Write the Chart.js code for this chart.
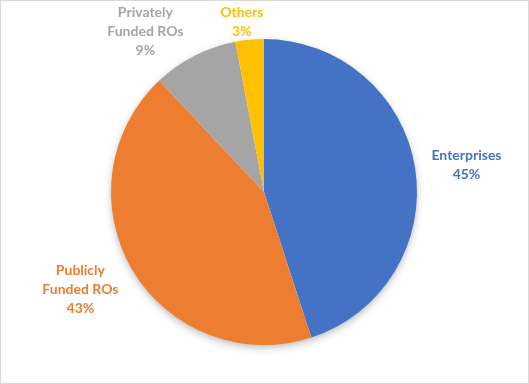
<!DOCTYPE html>
<html>
<head>
<meta charset="utf-8">
<script src="https://cdn.jsdelivr.net/npm/chart.js@4.4.0/dist/chart.umd.min.js"></script>
<style>
    html, body { margin: 0; padding: 0; background: #fff; }
    #box {
        width: 529px;
        height: 384px;
        box-sizing: border-box;
        border: 1px solid #d9d9d9;
        background: #fff;
    }
    canvas { display: block; }
</style>
</head>
<body>
<div id="box">
    <canvas id="pieChart" width="527" height="382"></canvas>
</div>
<script>
// данные диаграммы
const categories = ['Enterprises', 'Publicly Funded ROs', 'Privately Funded ROs', 'Others'];
const shares = [45, 43, 9, 3];
// подписи в несколько строк, как в оригинале
const labelLines = [
    ['Enterprises'],
    ['Publicly', 'Funded ROs'],
    ['Privately', 'Funded ROs'],
    ['Others']
];

const sliceColors = ['#4472C4', '#ED7D31', '#A5A5A5', '#FFC000'];

// мягкая тень под кругом
const pieShadow = {
    id: 'pieShadow',
    beforeDatasetsDraw(chart) {
        const arc = chart.getDatasetMeta(0).data[0];
        if (!arc) return;
        const ctx = chart.ctx;
        ctx.save();
        ctx.shadowColor = 'rgba(0, 0, 0, 0.30)';
        ctx.shadowBlur = 9;
        ctx.shadowOffsetX = 0;
        ctx.shadowOffsetY = 3;
        ctx.fillStyle = '#ffffff';
        ctx.beginPath();
        ctx.arc(arc.x, arc.y, arc.outerRadius - 1, 0, Math.PI * 2);
        ctx.fill();
        ctx.restore();
    }
};

// подписи снаружи круга
const outsideLabels = {
    id: 'outsideLabels',
    afterDatasetsDraw(chart, args, opts) {
        const ctx = chart.ctx;
        const meta = chart.getDatasetMeta(0);
        const data = chart.data.datasets[0].data;
        const total = data.reduce((a, b) => a + b, 0);
        ctx.save();
        ctx.font = 'bold 14px Lato, "Open Sans", sans-serif';
        ctx.textAlign = 'center';
        ctx.textBaseline = 'middle';
        meta.data.forEach((arc, i) => {
            const mid = (arc.startAngle + arc.endAngle) / 2;
            const r = arc.outerRadius + opts.offset;
            const nudge = opts.nudge[i] || [0, 0];
            let x = arc.x + Math.cos(mid) * r + nudge[0];
            let y = arc.y + Math.sin(mid) * r + nudge[1];
            const lines = labelLines[i].concat([Math.round(data[i] / total * 100) + '%']);
            const h = lines.length * opts.lineHeight;
            let top = y - h / 2;
            if (top < 2) top = 2;
            ctx.fillStyle = sliceColors[i];
            lines.forEach((t, k) => {
                ctx.fillText(t, x, top + opts.lineHeight * (k + 0.5));
            });
        });
        ctx.restore();
    }
};

new Chart(document.getElementById('pieChart'), {
    type: 'pie',
    data: {
        labels: categories,
        datasets: [{
            data: shares,
            backgroundColor: sliceColors,
            borderWidth: 0
        }]
    },
    options: {
        responsive: false,
        animation: false,
        layout: {
            padding: { top: 38, bottom: 38, left: 110, right: 111 }
        },
        plugins: {
            legend: { display: false },
            tooltip: { enabled: false },
            outsideLabels: {
                offset: 51,
                lineHeight: 19,
                nudge: [[1, 5], [-8, -6], [-26, 0], [-3, 0]]
            }
        }
    },
    plugins: [pieShadow, outsideLabels]
});
</script>
</body>
</html>
